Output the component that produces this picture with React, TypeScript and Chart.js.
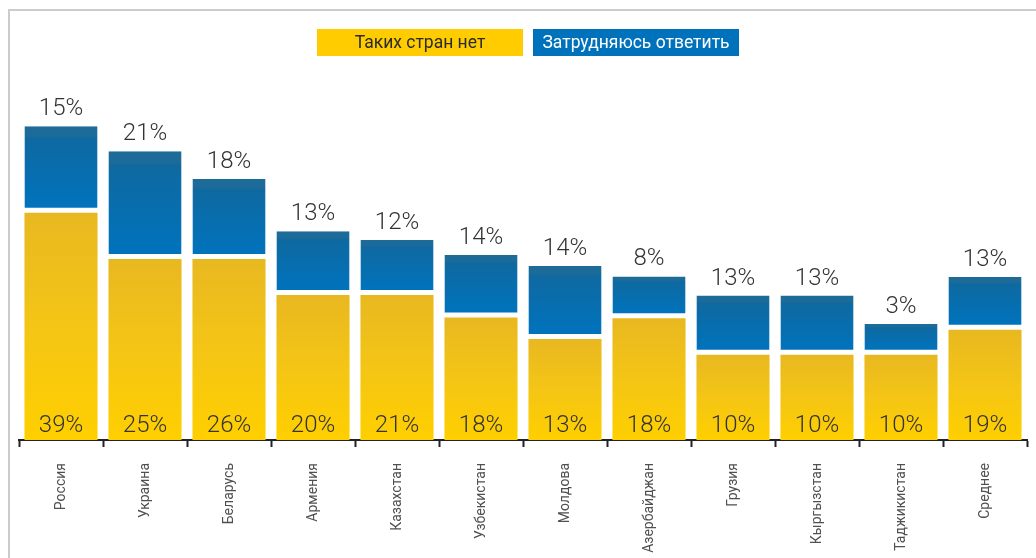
import React, { useEffect, useRef } from "react";
import { Chart, registerables } from "chart.js";

Chart.register(...registerables);

const categories = [
  "Россия",
  "Украина",
  "Беларусь",
  "Армения",
  "Казахстан",
  "Узбекистан",
  "Молдова",
  "Азербайджан",
  "Грузия",
  "Кыргызстан",
  "Таджикистан",
  "Среднее",
];

const seriesNames = ["Таких стран нет", "Затрудняюсь ответить"];

// bar heights (scale units)
const noSuchCountries = [39.2, 31.2, 31.2, 25.0, 25.0, 21.1, 17.4, 21.0, 14.7, 14.7, 14.7, 19.0];
const hardToSay = [14.9, 18.6, 13.8, 11.0, 9.5, 10.8, 12.6, 7.2, 10.2, 10.2, 5.3, 9.1];

// printed labels
const noSuchLabels = ["39%", "25%", "26%", "20%", "21%", "18%", "13%", "18%", "10%", "10%", "10%", "19%"];
const hardToSayLabels = ["15%", "21%", "18%", "13%", "12%", "14%", "14%", "8%", "13%", "13%", "3%", "13%"];

const YELLOW = "#ffcc00";
const BLUE = "#0072bc";
const GAP = 5;

const legendPlugin = {
  id: "boxLegend",
  afterDraw(chart: any) {
    const ctx = chart.ctx;
    const boxW = 206;
    const boxH = 27;
    const gap = 10;
    const startX = 317;
    const topY = 29;
    const fills = [YELLOW, BLUE];
    const textColors = ["#2b2b2b", "#ffffff"];
    ctx.save();
    ctx.font = "400 17.5px Roboto, 'Noto Sans', sans-serif";
    ctx.textAlign = "center";
    ctx.textBaseline = "middle";
    chart.data.datasets.forEach((ds: any, i: number) => {
      const x = startX + i * (boxW + gap);
      ctx.fillStyle = fills[i];
      ctx.fillRect(x, topY, boxW, boxH);
      ctx.fillStyle = textColors[i];
      ctx.fillText(ds.label, x + boxW / 2, topY + boxH / 2 + 1);
    });
    ctx.restore();
  },
};

const valueLabelPlugin = {
  id: "valueLabels",
  afterDatasetsDraw(chart: any) {
    const ctx = chart.ctx;
    ctx.save();
    ctx.font = "300 24px Roboto, 'Noto Sans', sans-serif";
    ctx.fillStyle = "#333333";
    ctx.textAlign = "center";
    ctx.textBaseline = "alphabetic";
    const m0 = chart.getDatasetMeta(0);
    m0.data.forEach((el: any, i: number) => {
      ctx.fillText(noSuchLabels[i], el.x, el.base - 8);
    });
    const m1 = chart.getDatasetMeta(1);
    m1.data.forEach((el: any, i: number) => {
      ctx.fillText(hardToSayLabels[i], el.x, el.y - 11);
    });
    ctx.restore();
  },
};

export default function App() {
  const ref = useRef<HTMLCanvasElement | null>(null);

  useEffect(() => {
    if (!ref.current) return;
    const chart = new Chart(ref.current, {
      type: "bar",
      data: {
        labels: categories,
        datasets: [
          {
            label: seriesNames[0],
            data: noSuchCountries,
            backgroundColor: (c: any) => {
              const ch = c.chart;
              if (!ch.chartArea || c.type !== "data") return YELLOW;
              const y = ch.scales.y;
              const i = c.dataIndex;
              const top = y.getPixelForValue(noSuchCountries[i]);
              const bottom = y.getPixelForValue(0);
              const g = ch.ctx.createLinearGradient(0, top, 0, bottom);
              g.addColorStop(0, "#e8b821");
              g.addColorStop(0.5, "#f4c515");
              g.addColorStop(1, "#ffcf00");
              return g;
            },
            borderWidth: 0,
            barPercentage: 0.87,
            categoryPercentage: 1,
          },
          {
            label: seriesNames[1],
            data: hardToSay,
            backgroundColor: (c: any) => {
              const ch = c.chart;
              if (!ch.chartArea || c.type !== "data") return BLUE;
              const y = ch.scales.y;
              const i = c.dataIndex;
              const top = y.getPixelForValue(noSuchCountries[i] + hardToSay[i]);
              const bottom = y.getPixelForValue(noSuchCountries[i]) - GAP;
              const g = ch.ctx.createLinearGradient(0, top, 0, bottom);
              g.addColorStop(0, "#1e6b98");
              g.addColorStop(0.12, "#1b6b99");
              g.addColorStop(0.14, "#0f69a0");
              g.addColorStop(1, "#0073bd");
              return g;
            },
            borderColor: "#ffffff",
            borderWidth: { top: 0, left: 0, right: 0, bottom: GAP },
            borderSkipped: false,
            barPercentage: 0.87,
            categoryPercentage: 1,
          },
        ],
      },
      options: {
        animation: false,
        responsive: false,
        maintainAspectRatio: false,
        layout: { padding: { top: 92, left: 19, right: 9, bottom: 0 } },
        plugins: {
          legend: { display: false },
          tooltip: { enabled: false },
          title: { display: false },
        },
        scales: {
          x: {
            stacked: true,
            afterFit: (scale: any) => {
              scale.height = 118;
            },
            grid: {
              display: true,
              offset: true,
              drawOnChartArea: false,
              drawTicks: true,
              tickLength: 7,
              tickWidth: 2,
              tickColor: "#222222",
            },
            border: { display: true, color: "#222222", width: 2 },
            ticks: {
              autoSkip: false,
              minRotation: 90,
              maxRotation: 90,
              padding: 16,
              color: "#505050",
              font: { family: "Roboto, 'Noto Sans', sans-serif", size: 14, weight: "400" },
            },
          },
          y: {
            stacked: true,
            display: false,
            min: 0,
            max: 60,
          },
        },
      },
      plugins: [legendPlugin, valueLabelPlugin],
    } as any);
    return () => chart.destroy();
  }, []);

  return (
    <div style={{ position: "absolute", left: 0, top: 0, width: 1036, height: 558, background: "#ffffff" }}>
      <div
        style={{
          position: "absolute",
          left: 8,
          top: 9,
          width: 1028,
          height: 549,
          boxSizing: "border-box",
          borderTop: "2px solid #cccccc",
          borderLeft: "2px solid #cccccc",
        }}
      />
      <canvas
        ref={ref}
        width={1036}
        height={558}
        style={{ position: "absolute", left: 0, top: 0, width: 1036, height: 558 }}
      />
    </div>
  );
}
